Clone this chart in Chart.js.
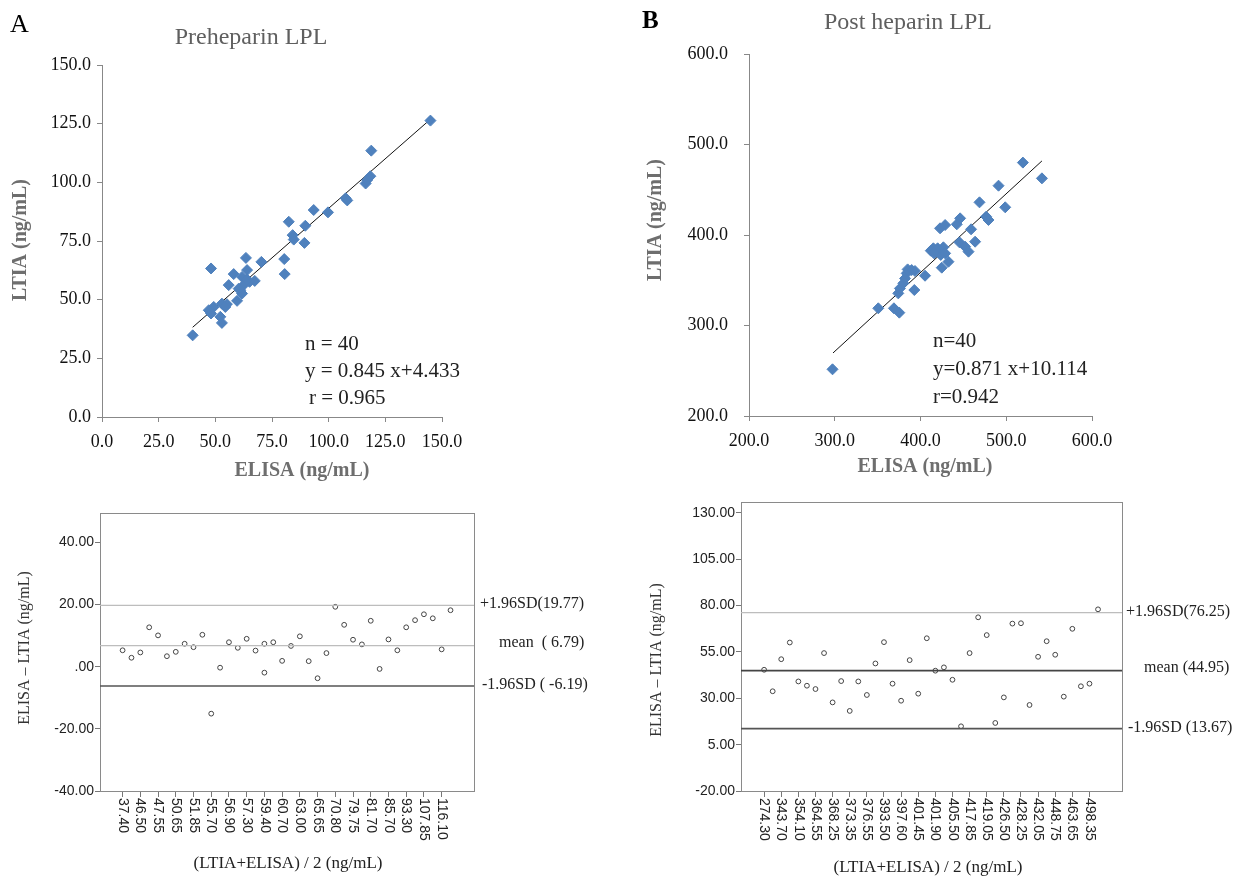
<!DOCTYPE html>
<html>
<head>
<meta charset="utf-8">
<script src="https://cdn.jsdelivr.net/npm/chart.js@4.4.0/dist/chart.umd.min.js"></script>
<style>
  body { margin: 0; background: #fff; width: 1255px; height: 883px; position: relative; overflow: hidden; }
  canvas { position: absolute; }
</style>
</head>
<body>
<canvas id="aTop" width="620" height="490" style="left:0;top:0"></canvas>
<canvas id="bTop" width="635" height="490" style="left:620px;top:0"></canvas>
<canvas id="aBottom" width="620" height="393" style="left:0;top:490px"></canvas>
<canvas id="bBottom" width="635" height="393" style="left:620px;top:490px"></canvas>
<script>
// ---- panel A, scatter: ELISA vs LTIA (preheparin)
const preElisa = [144.9, 118.8, 118.4, 116.3, 117.0, 107.5, 108.2, 99.7, 93.4, 89.7,
                  82.4, 84.1, 84.6, 89.3, 80.4, 80.6, 70.3, 63.5, 64.0, 48.1,
                  58.1, 61.8, 55.9, 67.4, 65.1, 62.5, 61.0, 61.8, 59.6, 52.9,
                  55.1, 54.4, 49.3, 47.1, 48.1, 52.2, 52.9, 40.0, 64.0, 60.3];
const preLtia  = [126.3, 113.5, 102.6, 99.5, 101.0, 93.2, 92.3, 87.2, 88.2, 81.5,
                  83.2, 77.5, 75.6, 74.2, 67.3, 60.9, 66.1, 67.8, 62.6, 63.3,
                  60.9, 59.7, 56.2, 58.0, 57.6, 56.2, 54.0, 52.6, 49.5, 48.3,
                  48.1, 46.9, 46.9, 45.5, 44.1, 42.7, 40.1, 34.8, 58.6, 54.7];
const preFit = { slope: 0.845, intercept: 4.433, from: 40, to: 144 };

// ---- panel B, scatter (post heparin)
const postElisa = [297.4, 350.8, 369.0, 375.3, 374.1, 376.0, 380.0, 383.9, 385.0, 389.7,
                   382.0, 393.6, 392.8, 405.3, 412.0, 415.0, 418.2, 420.0, 423.6, 426.7,
                   428.7, 424.8, 432.6, 422.8, 428.7, 442.3, 446.2, 445.4, 452.0, 456.0,
                   459.0, 463.7, 468.8, 476.6, 479.3, 491.0, 498.8, 519.4, 541.6, 415.8];
const postLtia  = [251.6, 319.0, 319.0, 314.2, 335.5, 341.0, 346.6, 357.6, 362.0, 361.3,
                   352.0, 360.2, 339.2, 355.0, 382.7, 385.3, 381.6, 385.3, 378.0, 386.4,
                   379.7, 363.9, 370.5, 407.4, 411.0, 411.8, 418.4, 391.9, 387.1, 381.6,
                   406.3, 392.6, 436.1, 420.3, 416.6, 454.5, 430.6, 480.0, 462.6, 379.7];
const postFit = { slope: 0.871, intercept: 10.114, from: 298, to: 541.6 };

// ---- Bland-Altman, preheparin
const preMeanLabels = ['37.40', '46.50', '47.55', '50.65', '51.85', '55.70', '56.90', '57.30', '59.40', '60.70',
                       '63.00', '65.65', '70.80', '79.75', '81.70', '85.70', '93.30', '107.85', '116.10'];
const preDiffPos = [0, 1, 2, 3, 4, 5, 6, 7, 8, 9, 10, 11, 12, 13, 14, 15, 16, 16, 17, 18,
                    19, 20, 21, 22, 23, 24, 25, 26, 27, 28, 29, 30, 31, 32, 33, 34, 35, 36, 37];
const preDiff = [5.3, 2.9, 4.6, 12.7, 10.1, 3.4, 4.8, 7.4, 6.3, 10.3,
                 -15.1, -0.3, 7.9, 6.1, 9.0, 5.2, 7.4, -1.9, 7.9, 1.9,
                 6.7, 9.8, 1.8, -3.7, 4.4, 19.3, 13.5, 8.7, 7.2, 14.8,
                 -0.7, 8.8, 5.3, 12.7, 15.0, 16.9, 15.6, 5.6, 18.2];
const preLimits = [19.77, 6.79, -6.19];
const preDiffTicks = [-40, -20, 0, 20, 40];

// ---- Bland-Altman, post heparin
const postMeanLabels = ['274.30', '343.70', '354.10', '364.55', '368.25', '373.35', '376.55', '393.50', '397.60', '401.45',
                        '401.90', '405.50', '417.85', '419.05', '426.50', '428.25', '432.05', '448.75', '463.65', '498.35'];
const postDiff = [45.4, 33.8, 51.1, 60.1, 39.1, 36.8, 35.0, 54.4, 27.8, 39.3,
                  23.2, 39.1, 31.8, 48.8, 60.3, 37.9, 28.7, 50.6, 32.5, 62.4,
                  44.9, 46.7, 40.0, 14.9, 54.4, 73.7, 64.1, 16.7, 30.5, 70.3,
                  70.5, 26.4, 52.4, 60.8, 53.5, 30.9, 67.5, 36.5, 37.9, 78.0];
const postLimits = [76.25, 44.95, 13.67];
const postDiffTicks = [-20, 5, 30, 55, 80, 105, 130];

const SERIF = '"Liberation Serif", "Times New Roman", serif';
const SANS = '"Liberation Sans", Arial, sans-serif';

// free text drawn on the canvas, positions given in page pixels
const textLayer = {
  id: 'textLayer',
  afterDraw(chart, args, opts) {
    const ctx = chart.ctx;
    (opts.items || []).forEach(it => {
      ctx.save();
      ctx.font = it.font;
      ctx.fillStyle = it.color || '#222';
      ctx.textAlign = it.align || 'left';
      ctx.textBaseline = it.base || 'alphabetic';
      ctx.translate(it.x - opts.ox, it.y - opts.oy);
      if (it.rot) ctx.rotate(it.rot);
      ctx.fillText(it.text, 0, 0);
      ctx.restore();
    });
  }
};

// full box around plot area (bottom panels)
const frame = {
  id: 'frame',
  beforeDatasetsDraw(chart, args, opts) {
    if (!opts.color) return;
    const a = chart.chartArea, ctx = chart.ctx;
    ctx.save();
    ctx.strokeStyle = opts.color;
    ctx.lineWidth = 1;
    ctx.strokeRect(Math.round(a.left) + 0.5, Math.round(a.top) + 0.5, Math.round(a.right - a.left), Math.round(a.bottom - a.top));
    ctx.restore();
  }
};

// x labels turned 90deg clockwise, one on every second category
const vertLabels = {
  id: 'vertLabels',
  afterDraw(chart, args, opts) {
    if (!opts.labels) return;
    const ctx = chart.ctx, sx = chart.scales.x;
    ctx.save();
    ctx.font = '14px ' + SANS;
    ctx.fillStyle = '#222';
    ctx.textAlign = 'left';
    ctx.textBaseline = 'middle';
    opts.labels.forEach((l, i) => {
      ctx.save();
      ctx.translate(sx.getPixelForValue(i * 2), chart.chartArea.bottom + 7);
      ctx.rotate(Math.PI / 2);
      ctx.fillText(l, 0, 0);
      ctx.restore();
    });
    ctx.restore();
  }
};

Chart.register(textLayer, frame, vertLabels);
Chart.defaults.animation = false;
Chart.defaults.plugins.legend.display = false;
Chart.defaults.plugins.tooltip.enabled = false;

// fixed axis sizes so the plot areas land where they are in the figure
function fixW(w) { return s => { s.width = w; }; }
function fixH(h) { return s => { s.height = h; }; }

function topAxis(min, max, step, pad) {
  return {
    type: 'linear', min: min, max: max,
    ticks: { stepSize: step, padding: pad, color: '#111', font: { family: SERIF, size: 18 },
             callback: v => v.toFixed(1) },
    grid: { drawOnChartArea: false, tickLength: 5, color: '#888' },
    border: { color: '#888' }
  };
}

function scatterChart(id, xs, ys, fit, xAxis, yAxis, padding, texts, ox) {
  const pts = xs.map((x, i) => ({ x: x, y: ys[i] }));
  const line = [fit.from, fit.to].map(x => ({ x: x, y: fit.slope * x + fit.intercept }));
  return new Chart(document.getElementById(id), {
    type: 'scatter',
    data: {
      datasets: [
        { data: pts, pointStyle: 'rectRot', pointRadius: 5.5, backgroundColor: '#4F81BD', borderColor: '#4F81BD', borderWidth: 1 },
        { data: line, showLine: true, pointRadius: 0, borderColor: '#111', borderWidth: 1 }
      ]
    },
    options: {
      responsive: false,
      layout: { padding: padding },
      scales: { x: xAxis, y: yAxis },
      plugins: { textLayer: { items: texts, ox: ox, oy: 0 } }
    }
  });
}

const titleFont = '24px ' + SERIF;
const axisTitleFont = 'bold 20px ' + SERIF;
const noteFont = '21px ' + SERIF;

const aTopX = topAxis(0, 150, 25, 9);
const aTopY = topAxis(0, 150, 25, 6);
aTopX.afterFit = fixH(73);
aTopY.afterFit = fixW(102);
scatterChart('aTop', preElisa, preLtia, preFit, aTopX, aTopY,
  { left: 0, top: 65, right: 178, bottom: 0 },
  [
    { text: 'A', x: 10, y: 32, font: '26px ' + SERIF, color: '#000' },
    { text: 'Preheparin LPL', x: 251, y: 44, font: titleFont, color: '#5f5f5f', align: 'center' },
    { text: 'LTIA (ng/mL)', x: 21, y: 240, font: axisTitleFont, color: '#6e6e6e', align: 'center', base: 'middle', rot: -Math.PI / 2 },
    { text: 'ELISA (ng/mL)', x: 302, y: 471, font: axisTitleFont, color: '#6e6e6e', align: 'center', base: 'middle' },
    { text: 'n = 40', x: 305, y: 350, font: noteFont },
    { text: 'y = 0.845 x+4.433', x: 305, y: 377, font: noteFont },
    { text: 'r = 0.965', x: 309, y: 404, font: noteFont }
  ], 0);

const bTopX = topAxis(200, 600, 100, 9);
const bTopY = topAxis(200, 600, 100, 16);
bTopX.afterFit = fixH(74);
bTopY.afterFit = fixW(129);
scatterChart('bTop', postElisa, postLtia, postFit, bTopX, bTopY,
  { left: 0, top: 54, right: 163, bottom: 0 },
  [
    { text: 'B', x: 642, y: 28, font: 'bold 25px ' + SERIF, color: '#000' },
    { text: 'Post heparin LPL', x: 908, y: 29, font: titleFont, color: '#5f5f5f', align: 'center' },
    { text: 'LTIA (ng/mL)', x: 656, y: 220, font: axisTitleFont, color: '#6e6e6e', align: 'center', base: 'middle', rot: -Math.PI / 2 },
    { text: 'ELISA (ng/mL)', x: 925, y: 467, font: axisTitleFont, color: '#6e6e6e', align: 'center', base: 'middle' },
    { text: 'n=40', x: 933, y: 347, font: noteFont },
    { text: 'y=0.871 x+10.114', x: 933, y: 375, font: noteFont },
    { text: 'r=0.942', x: 933, y: 403, font: noteFont }
  ], 620);

function diffLabel(v) {
  const s = v.toFixed(2);
  return s.replace(/^0\./, '.');
}

function baChart(id, pos, diffs, limits, limitColors, limitWidths, labels, yTicks, xMin, xMax, yMin, yMax, yWidth, padding, texts, ox) {
  const pts = diffs.map((d, i) => ({ x: pos[i], y: d }));
  const limitSets = limits.map((v, i) => ({
    data: [{ x: xMin, y: v }, { x: xMax, y: v }], showLine: true, pointRadius: 0,
    borderColor: limitColors[i], borderWidth: limitWidths[i]
  }));
  return new Chart(document.getElementById(id), {
    type: 'scatter',
    data: {
      datasets: limitSets.concat([
        { data: pts, pointStyle: 'circle', pointRadius: 2.4, borderWidth: 1, borderColor: '#444', backgroundColor: '#fff' }
      ])
    },
    options: {
      responsive: false,
      layout: { padding: padding },
      scales: {
        x: {
          type: 'linear', min: xMin, max: xMax, afterFit: fixH(92),
          afterBuildTicks: s => { s.ticks = labels.map((_, i) => ({ value: i * 2 })); },
          ticks: { display: false },
          grid: { drawOnChartArea: false, tickLength: 6, color: '#777' },
          border: { color: '#888' }
        },
        y: {
          type: 'linear', min: yMin, max: yMax, afterFit: fixW(yWidth),
          afterBuildTicks: s => { s.ticks = yTicks.map(v => ({ value: v })); },
          ticks: { padding: 1, color: '#222', font: { family: SANS, size: 14 }, callback: v => diffLabel(v) },
          grid: { drawOnChartArea: false, tickLength: 5, color: '#777' },
          border: { color: '#888' }
        }
      },
      plugins: {
        frame: { color: '#8a8a8a' },
        vertLabels: { labels: labels },
        textLayer: { items: texts, ox: ox, oy: 490 }
      }
    }
  });
}

const smallFont = '16px ' + SERIF;
const xTitleFont = '17px ' + SERIF;

baChart('aBottom', preDiffPos, preDiff, preLimits, ['#bdbdbd', '#bdbdbd', '#555'], [1.2, 1.2, 1.6],
  preMeanLabels, preDiffTicks, -2.55, 39.65, -40, 49.5, 100,
  { left: 0, top: 23, right: 146, bottom: 0 },
  [
    { text: 'ELISA \u2013 LTIA (ng/mL)', x: 25, y: 648, font: smallFont, color: '#333', align: 'center', base: 'middle', rot: -Math.PI / 2 },
    { text: '+1.96SD(19.77)', x: 480, y: 604, font: smallFont, base: 'middle' },
    { text: 'mean  ( 6.79)', x: 499, y: 643, font: smallFont, base: 'middle' },
    { text: '-1.96SD ( -6.19)', x: 482, y: 685, font: smallFont, base: 'middle' },
    { text: '(LTIA+ELISA) / 2 (ng/mL)', x: 288, y: 868, font: xTitleFont, align: 'center' }
  ], 0);

const postX = postDiff.map((_, i) => i);
baChart('bBottom', postX, postDiff, postLimits, ['#bdbdbd', '#444', '#555'], [1.2, 1.6, 1.6],
  postMeanLabels, postDiffTicks, -2.7, 41.8, -20, 135.9, 121,
  { left: 0, top: 12, right: 133, bottom: 0 },
  [
    { text: 'ELISA \u2013 LTIA (ng/mL)', x: 657, y: 660, font: smallFont, color: '#333', align: 'center', base: 'middle', rot: -Math.PI / 2 },
    { text: '+1.96SD(76.25)', x: 1126, y: 612, font: smallFont, base: 'middle' },
    { text: 'mean (44.95)', x: 1144, y: 668, font: smallFont, base: 'middle' },
    { text: '-1.96SD (13.67)', x: 1128, y: 728, font: smallFont, base: 'middle' },
    { text: '(LTIA+ELISA) / 2 (ng/mL)', x: 928, y: 872, font: xTitleFont, align: 'center' }
  ], 620);
</script>
</body>
</html>
